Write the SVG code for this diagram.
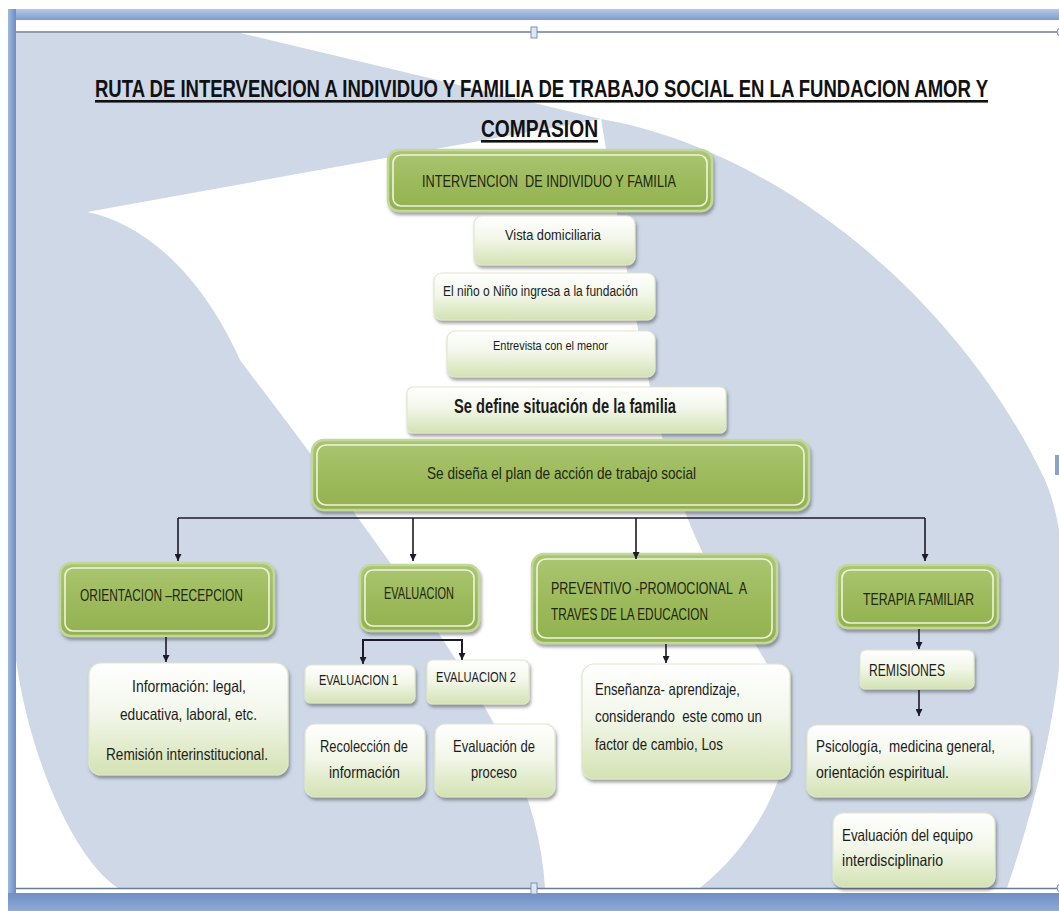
<svg xmlns="http://www.w3.org/2000/svg" width="1059" height="911" viewBox="0 0 1059 911">
<defs>
<linearGradient id="gGreen" x1="0" y1="0" x2="0" y2="1">
<stop offset="0" stop-color="#abc672"/>
<stop offset="0.5" stop-color="#9dbb5c"/>
<stop offset="1" stop-color="#92b14f"/>
</linearGradient>
<linearGradient id="gLight" x1="0" y1="0" x2="0" y2="1">
<stop offset="0" stop-color="#ffffff"/>
<stop offset="0.45" stop-color="#f3f7ea"/>
<stop offset="1" stop-color="#d3e2b3"/>
</linearGradient>
<linearGradient id="gBar" x1="0" y1="0" x2="0" y2="1">
<stop offset="0" stop-color="#b4c9e6"/>
<stop offset="1" stop-color="#7e9ccb"/>
</linearGradient>
<linearGradient id="gBarB" x1="0" y1="0" x2="0" y2="1">
<stop offset="0" stop-color="#6f8fc4"/>
<stop offset="1" stop-color="#8eaad6"/>
</linearGradient>
<linearGradient id="gSide" x1="0" y1="0" x2="1" y2="0">
<stop offset="0" stop-color="#9fb9e0"/>
<stop offset="1" stop-color="#6c8cc2"/>
</linearGradient>
<filter id="sh" x="-10%" y="-10%" width="125%" height="140%">
<feDropShadow dx="1.5" dy="3" stdDeviation="1.6" flood-color="#4a4a4a" flood-opacity="0.5"/>
</filter>
<marker id="ah" viewBox="0 0 10 10" refX="10" refY="5" markerWidth="7" markerHeight="7" markerUnits="userSpaceOnUse" orient="auto">
<path d="M0,0 L10,5 L0,10 Z" fill="#1b1b2a"/>
</marker>
<clipPath id="content"><rect x="16" y="33" width="1043" height="855"/></clipPath>
</defs>
<style>
.gbox{fill:url(#gGreen);stroke:#c3d79a;stroke-width:2.5;filter:url(#sh)}
.gin{fill:none;stroke:#eef4df;stroke-width:1.6}
.lbox{fill:url(#gLight);stroke:#dfe8cc;stroke-width:1.2;filter:url(#sh)}
text{font-family:"Liberation Sans",Arial,sans-serif;fill:#1c1c1c}
.tt{font-size:19.5px;font-weight:bold;fill:#111}
.gt{font-size:17px;fill:#1f2613}
.lt{font-size:16.5px}
.st{font-size:14px}
.bt{font-size:19.5px;font-weight:bold}
.con{fill:none;stroke:#1b1b2a;stroke-width:1.6}
</style>

<rect x="0" y="0" width="1059" height="911" fill="#ffffff"/>

<g id="background" clip-path="url(#content)">
<path d="M16,33 L240,33 L601,119 C780,150 960,300 1045,480 C1080,560 1065,720 1007,888 L118,888 C75,860 30,760 16,660 Z" fill="#ced8e7"/>
<path d="M87,212 L601,119 C625,260 650,420 687,517 C720,600 765,650 785,700 C800,760 760,840 700,888 L545,888 C540,800 500,730 461,668 C400,570 300,440 240,360 C200,270 140,222 87,212 Z" fill="#ffffff"/>
</g>

<g id="frame">
<rect x="8" y="9" width="1051" height="11" fill="url(#gBar)"/>
<rect x="8" y="9" width="8" height="902" fill="url(#gSide)"/>
<rect x="8" y="893" width="1051" height="18" fill="url(#gBarB)"/>
<line x1="16" y1="32" x2="1059" y2="32" stroke="#6d7c92" stroke-width="1.6"/>
<line x1="16" y1="888.5" x2="1059" y2="888.5" stroke="#6d7c92" stroke-width="1.6"/>
<rect x="531" y="27" width="6" height="11" fill="#dce7f5" stroke="#7c93b5" stroke-width="1"/>
<rect x="531" y="883" width="6" height="11" fill="#dce7f5" stroke="#7c93b5" stroke-width="1"/>
<rect x="1055" y="455" width="4" height="20" fill="#8aa4c8"/>
<circle cx="1061" cy="32" r="4" fill="#dce7f5" stroke="#7c93b5"/>
<circle cx="1061" cy="888" r="4" fill="#dce7f5" stroke="#7c93b5"/>
</g>

<g id="title">
<text class="tt" transform="translate(95,97) scale(1,1.18)" x="0" y="0" textLength="893" lengthAdjust="spacingAndGlyphs">RUTA DE INTERVENCION A INDIVIDUO Y FAMILIA DE TRABAJO SOCIAL EN LA FUNDACION AMOR Y</text>
<rect x="95" y="100" width="893" height="2.6" fill="#111"/>
<text class="tt" transform="translate(481,137) scale(1,1.18)" x="0" y="0" textLength="117" lengthAdjust="spacingAndGlyphs">COMPASION</text>
<rect x="481" y="140" width="117" height="2.6" fill="#111"/>
</g>

<g id="n-intervencion">
<rect class="gbox" x="388" y="150" width="324" height="61" rx="11"/>
<rect class="gin" x="393" y="155" width="314" height="51" rx="8"/>
<text class="gt" x="422" y="187" textLength="254" lengthAdjust="spacingAndGlyphs" xml:space="preserve">INTERVENCION  DE INDIVIDUO Y FAMILIA</text>
</g>
<g id="n-vista">
<rect class="lbox" x="474" y="216" width="161" height="49" rx="8"/>
<text class="st" x="505" y="240" textLength="96" lengthAdjust="spacingAndGlyphs">Vista domiciliaria</text>
</g>
<g id="n-ingresa">
<rect class="lbox" x="434" y="273" width="221" height="47" rx="8"/>
<text class="st" x="443" y="296" textLength="195" lengthAdjust="spacingAndGlyphs">El niño o Niño ingresa a la fundación</text>
</g>
<g id="n-entrevista">
<rect class="lbox" x="447" y="331" width="208" height="46" rx="8"/>
<text x="493" y="350" font-size="12.5" textLength="115" lengthAdjust="spacingAndGlyphs">Entrevista con el menor</text>
</g>
<g id="n-define">
<rect class="lbox" x="407" y="387" width="319" height="46" rx="6"/>
<text class="bt" x="454" y="413" textLength="222" lengthAdjust="spacingAndGlyphs">Se define situación de la familia</text>
</g>
<g id="n-plan">
<rect class="gbox" x="312" y="440" width="497" height="70" rx="12"/>
<rect class="gin" x="317" y="445" width="487" height="60" rx="9"/>
<text class="gt" x="427" y="479" textLength="269" lengthAdjust="spacingAndGlyphs">Se diseña el plan de acción de trabajo social</text>
</g>

<g id="n-orientacion">
<rect class="gbox" x="60" y="563" width="214" height="73" rx="11"/>
<rect class="gin" x="65" y="568" width="204" height="63" rx="8"/>
<text class="gt" x="80" y="601" textLength="163" lengthAdjust="spacingAndGlyphs">ORIENTACION –RECEPCION</text>
</g>
<g id="n-evaluacion">
<rect class="gbox" x="360" y="565" width="119" height="66" rx="11"/>
<rect class="gin" x="365" y="570" width="109" height="56" rx="8"/>
<text class="gt" x="384" y="599" font-size="15" textLength="70" lengthAdjust="spacingAndGlyphs">EVALUACION</text>
</g>
<g id="n-preventivo">
<rect class="gbox" x="532" y="554" width="245" height="89" rx="12"/>
<rect class="gin" x="537" y="559" width="235" height="79" rx="9"/>
<text class="gt" x="551" y="594" textLength="196" lengthAdjust="spacingAndGlyphs" xml:space="preserve">PREVENTIVO -PROMOCIONAL  A</text>
<text class="gt" x="551" y="620" textLength="157" lengthAdjust="spacingAndGlyphs">TRAVES DE LA EDUCACION</text>
</g>
<g id="n-terapia">
<rect class="gbox" x="837" y="565" width="161" height="63" rx="11"/>
<rect class="gin" x="842" y="570" width="151" height="53" rx="8"/>
<text class="gt" x="863" y="605" textLength="111" lengthAdjust="spacingAndGlyphs">TERAPIA FAMILIAR</text>
</g>

<g id="n-informacion">
<rect class="lbox" x="89" y="663" width="199" height="112" rx="12"/>
<text class="lt" x="132" y="692" textLength="114" lengthAdjust="spacingAndGlyphs">Información: legal,</text>
<text class="lt" x="120" y="720" textLength="137" lengthAdjust="spacingAndGlyphs">educativa, laboral, etc.</text>
<text class="lt" x="106" y="760" textLength="162" lengthAdjust="spacingAndGlyphs">Remisión interinstitucional.</text>
</g>
<g id="n-eval1">
<rect class="lbox" x="305" y="665" width="110" height="38" rx="6"/>
<text x="319" y="685" font-size="14.5" textLength="79" lengthAdjust="spacingAndGlyphs">EVALUACION 1</text>
</g>
<g id="n-eval2">
<rect class="lbox" x="427" y="660" width="102" height="44" rx="6"/>
<text x="436" y="682" font-size="14.5" textLength="80" lengthAdjust="spacingAndGlyphs">EVALUACION 2</text>
</g>
<g id="n-recoleccion">
<rect class="lbox" x="305" y="724" width="120" height="73" rx="10"/>
<text class="lt" x="320" y="752" textLength="88" lengthAdjust="spacingAndGlyphs">Recolección de</text>
<text class="lt" x="329" y="778" textLength="71" lengthAdjust="spacingAndGlyphs">información</text>
</g>
<g id="n-proceso">
<rect class="lbox" x="435" y="724" width="120" height="73" rx="10"/>
<text class="lt" x="453" y="752" textLength="82" lengthAdjust="spacingAndGlyphs">Evaluación de</text>
<text class="lt" x="471" y="778" textLength="46" lengthAdjust="spacingAndGlyphs">proceso</text>
</g>
<g id="n-ensenanza">
<rect class="lbox" x="582" y="664" width="208" height="115" rx="12"/>
<text class="lt" x="595" y="695" textLength="145" lengthAdjust="spacingAndGlyphs">Enseñanza- aprendizaje,</text>
<text class="lt" x="595" y="722" textLength="167" lengthAdjust="spacingAndGlyphs" xml:space="preserve">considerando  este como un</text>
<text class="lt" x="595" y="750" textLength="128" lengthAdjust="spacingAndGlyphs">factor de cambio, Los</text>
</g>
<g id="n-remisiones">
<rect class="lbox" x="860" y="650" width="114" height="39" rx="6"/>
<text class="lt" x="869" y="676" textLength="76" lengthAdjust="spacingAndGlyphs">REMISIONES</text>
</g>
<g id="n-psicologia">
<rect class="lbox" x="807" y="725" width="223" height="72" rx="10"/>
<text class="lt" x="816" y="752" textLength="179" lengthAdjust="spacingAndGlyphs" xml:space="preserve">Psicología,  medicina general,</text>
<text class="lt" x="816" y="778" textLength="133" lengthAdjust="spacingAndGlyphs">orientación espiritual.</text>
</g>
<g id="n-equipo">
<rect class="lbox" x="833" y="813" width="162" height="74" rx="10"/>
<text class="lt" x="842" y="841" textLength="131" lengthAdjust="spacingAndGlyphs">Evaluación del equipo</text>
<text class="lt" x="842" y="866" textLength="101" lengthAdjust="spacingAndGlyphs">interdisciplinario</text>
</g>

<g id="connectors">
<path class="con" d="M178,518 L925,518"/>
<path class="con" marker-end="url(#ah)" d="M178,518 L178,561"/>
<path class="con" marker-end="url(#ah)" d="M413,518 L413,561"/>
<path class="con" marker-end="url(#ah)" d="M636,518 L636,559"/>
<path class="con" marker-end="url(#ah)" d="M925,518 L925,561"/>
<path class="con" marker-end="url(#ah)" d="M166,637 L166,662"/>
<path class="con" style="stroke-width:2" d="M363,662 L363,640 L462,640 L462,659"/>
<path class="con" marker-end="url(#ah)" d="M363,650 L363,664"/>
<path class="con" marker-end="url(#ah)" d="M462,650 L462,660"/>
<path class="con" marker-end="url(#ah)" d="M666,644 L666,663"/>
<path class="con" marker-end="url(#ah)" d="M919,629 L919,649"/>
<path class="con" marker-end="url(#ah)" d="M919,690 L919,716"/>
</g>
</svg>
